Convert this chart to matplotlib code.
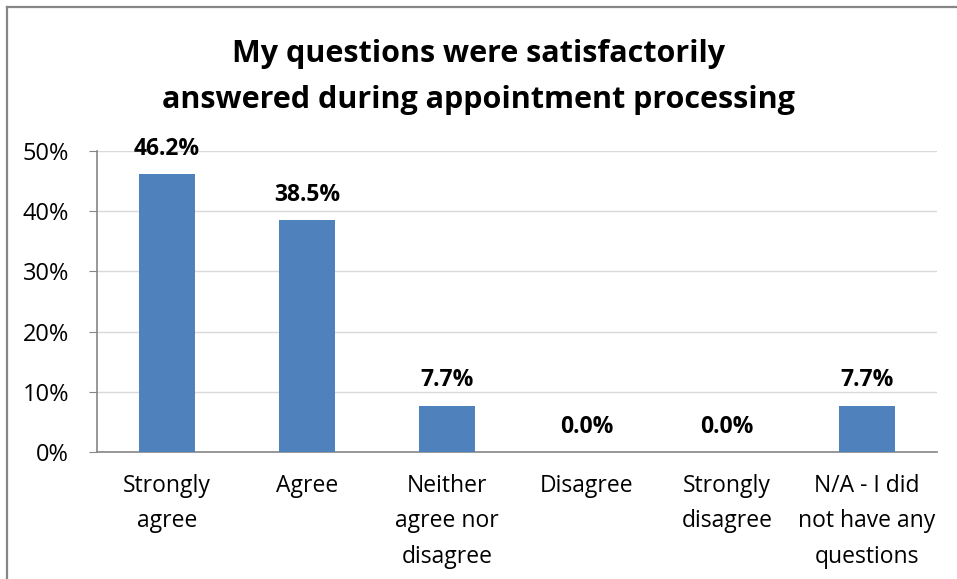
import matplotlib.pyplot as plt
from matplotlib.lines import Line2D

categories = ['Strongly\nagree', 'Agree', 'Neither\nagree nor\ndisagree', 'Disagree',
              'Strongly\ndisagree', 'N/A - I did\nnot have any\nquestions']
values = [46.2, 38.5, 7.7, 0.0, 0.0, 7.7]
yticks = [0, 10, 20, 30, 40, 50]

plt.rcParams['font.family'] = ['Open Sans', 'DejaVu Sans']

W, H = 957, 579
fig = plt.figure(figsize=(W / 100, H / 100), dpi=100)
ax = fig.add_axes([97 / W, 1 - 452 / H, 840 / W, 301 / H])

x = range(len(categories))
ax.bar(x, values, width=0.4, color='#4f81bd', zorder=3)
for xi, v in zip(x, values):
    ax.text(xi, v + 3.2, f'{v:.1f}%', ha='center', va='baseline',
            fontsize=16.5, fontweight='bold', color='black')

ax.set_xlim(-0.5, len(categories) - 0.5)
ax.set_ylim(0, 50)
ax.set_yticks(yticks)
ax.set_yticklabels([f'{t}%' for t in yticks], fontsize=17)
ax.set_xticks(list(x))
ax.set_xticklabels(categories, fontsize=16.5, linespacing=1.62)
ax.tick_params(axis='x', length=0, pad=16)
ax.tick_params(axis='y', length=6, color='#868686', pad=14)
ax.grid(axis='y', color='#d9d9d9', linewidth=1, zorder=0)
for side in ['top', 'right']:
    ax.spines[side].set_visible(False)
for side in ['left', 'bottom']:
    ax.spines[side].set_color('#868686')
    ax.spines[side].set_linewidth(1.2)

fig.text(0.5, 1 - 77 / H, 'My questions were satisfactorily\nanswered during appointment processing',
         ha='center', va='center', fontsize=22, fontweight='bold', linespacing=1.72)

# outer border (only top and left edges visible in the crop)
fig.lines.append(Line2D([6.5 / W, 1], [1 - 6.5 / H, 1 - 6.5 / H], transform=fig.transFigure,
                        color='#868686', linewidth=1.6))
fig.lines.append(Line2D([6.5 / W, 6.5 / W], [0, 1 - 6.5 / H], transform=fig.transFigure,
                        color='#868686', linewidth=1.6))

fig.savefig('out.png', dpi=100)
